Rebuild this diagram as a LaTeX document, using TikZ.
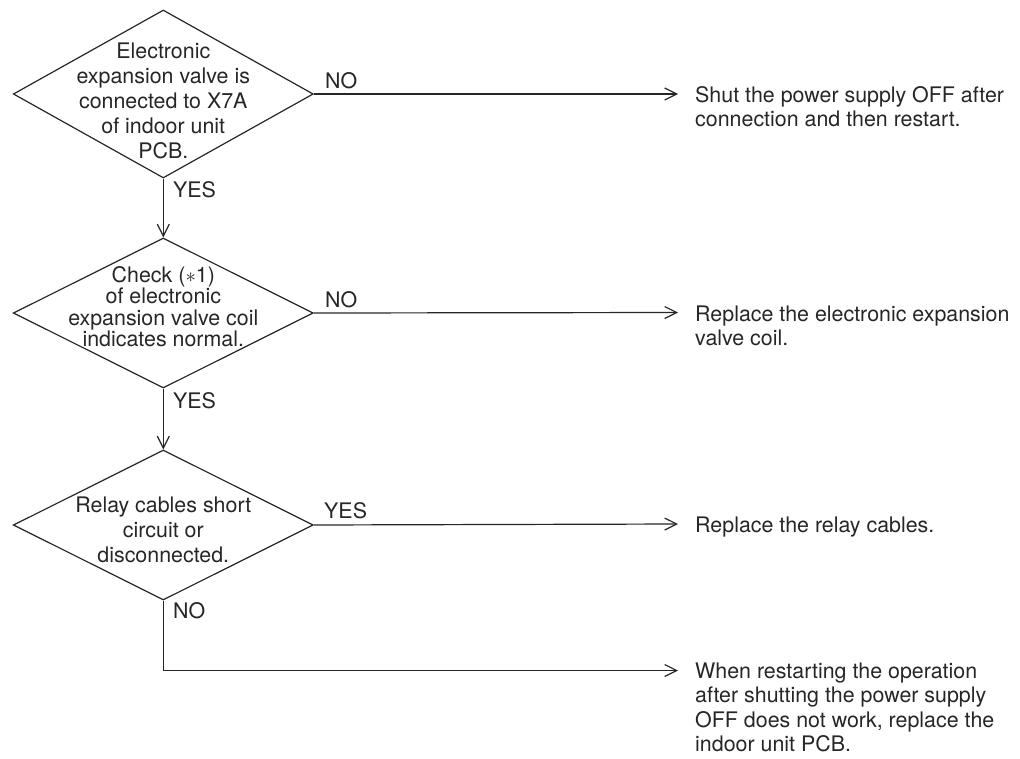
\documentclass[tikz,border=0pt]{standalone}
\usepackage{fontspec}
\setmainfont{TeX Gyre Heros}
\usetikzlibrary{shapes.geometric,arrows.meta}
\definecolor{ink}{RGB}{38,38,38}
\begin{document}
\begin{tikzpicture}[x=1pt,y=-1pt,
  every node/.style={text=ink,font=\fontsize{21.4pt}{25pt}\selectfont},
  decision/.style={diamond,draw=ink,line width=1.2pt,inner sep=0pt,
    minimum width=300pt,aspect=1},
  dtext/.style={anchor=north,inner sep=0pt,align=center},
  outcome/.style={anchor=north west,inner sep=0pt,align=left,
    font=\fontsize{21.4pt}{24.5pt}\selectfont},
  tag/.style={anchor=base west,inner sep=0pt},
  flow/.style={draw=ink,line width=1.2pt,
    -{Straight Barb[length=12pt,width=12pt,line width=1.2pt]}},
  wire/.style={draw=ink,line width=1.2pt}]
\path[use as bounding box] (0,0) rectangle (1020,758);

% decisions
\node[decision,minimum height=168pt] (d1) at (163.3,94) {};
\node[decision,minimum height=150pt] (d2) at (163.3,313) {};
\node[decision,minimum height=150pt] (d3) at (163.3,525) {};

\node[dtext] (d1t) at (163.3,42)
  {\rule{0pt}{16pt}Electronic\\expansion valve is\\connected to X7A\\of indoor unit\\PCB.};
\node[dtext,font=\fontsize{21.4pt}{21.5pt}\selectfont] (d2t) at (163.3,266)
  {\rule{0pt}{16pt}Check ($\ast$1)\\of electronic\\expansion valve coil\\indicates normal.};
\node[dtext] (d3t) at (163.3,496)
  {\rule{0pt}{16pt}Relay cables short\\circuit or\\disconnected.};

% outcomes
\node[outcome] (r1) at (695,86)
  {\rule{0pt}{16pt}Shut the power supply OFF after\\connection and then restart.};
\node[outcome] (r2) at (695,305)
  {\rule{0pt}{16pt}Replace the electronic expansion\\valve coil.};
\node[outcome] (r3) at (695,516)
  {\rule{0pt}{16pt}Replace the relay cables.};
\node[outcome] (r4) at (695,662)
  {\rule{0pt}{16pt}When restarting the operation\\after shutting the power supply\\OFF does not work, replace the\\indoor unit PCB.};

% arrow tips in front of the outcomes
\coordinate (t1) at (678,94);
\coordinate (t2) at (678,312.5);
\coordinate (t3) at (678,524);
\coordinate (t4) at (678,670.5);
\coordinate (bend) at (163.3,670.5);

% connectors
\draw[flow] (d1.south) -- (d2.north);
\draw[flow] (d2.south) -- (d3.north);
\draw[flow] (d1.east) -- (t1);
\draw[flow] (d2.east) -- (t2);
\draw[flow] (d3.east) -- (t3);
\draw[wire] (d3.south) -- (bend);
\draw[flow] (bend) -- (t4);

% branch labels
\node[tag] (n1) at (325,88) {NO};
\node[tag] (y1) at (173,197) {YES};
\node[tag] (n2) at (325,307) {NO};
\node[tag] (y2) at (173,408) {YES};
\node[tag] (y3) at (324,518) {YES};
\node[tag] (n3) at (173,618) {NO};
\end{tikzpicture}
\end{document}
